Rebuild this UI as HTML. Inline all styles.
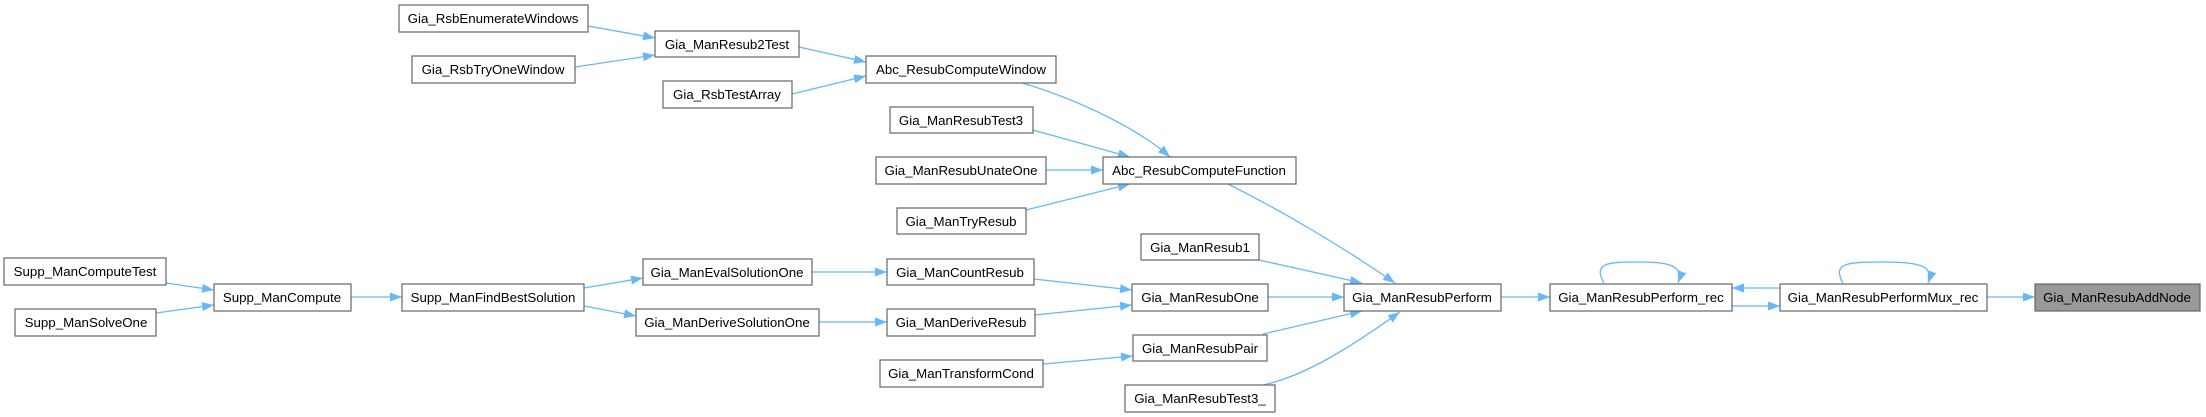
<!DOCTYPE html>
<html><head><meta charset="utf-8"><style>
html,body{margin:0;padding:0;background:#fff;}
svg{display:block;}
text{font-family:"Liberation Sans",Arial,sans-serif;font-size:13.3px;fill:#000;}
</style></head><body>
<svg width="2206" height="417" viewBox="0 0 2206 417" xmlns="http://www.w3.org/2000/svg">
<defs>
<marker id="a" markerWidth="12" markerHeight="9" refX="12" refY="4.5" orient="auto" markerUnits="userSpaceOnUse">
<path d="M0,0 L12,4.5 L0,9 z" fill="#63b8ff"/>
</marker>
</defs>
<g fill="none" stroke="#63b8ff" stroke-width="1.3" marker-end="url(#a)">
<path d="M588,26 L655,38"/>
<path d="M575,67 L655,55"/>
<path d="M799,47 L866,62"/>
<path d="M792,94 L866,76"/>
<path d="M1022,83 C1080,100 1140,130 1170,157"/>
<path d="M1033,130 L1130,157"/>
<path d="M1046,170 L1103,170"/>
<path d="M1026,210 L1130,184"/>
<path d="M1228,184 C1280,210 1340,245 1395,283"/>
<path d="M1259,260 L1362,283"/>
<path d="M1268,297 L1344,297"/>
<path d="M1263,334 L1362,311"/>
<path d="M1263,385 C1310,375 1360,340 1400,312"/>
<path d="M1034,279 L1132,290"/>
<path d="M1035,315 L1132,305"/>
<path d="M1043,364 L1133,356"/>
<path d="M812,272 L887,272"/>
<path d="M819,322 L887,322"/>
<path d="M584,288 L643,278"/>
<path d="M584,306 L636,316"/>
<path d="M351,297 L402,297"/>
<path d="M166,283 L214,290"/>
<path d="M156,313 L214,305"/>
<path d="M1501,297 L1550,297"/>
<path d="M1780,288 L1732,288"/>
<path d="M1732,306 L1780,306"/>
<path d="M1987,297 L2035,297"/>
<path d="M1604,283 C1592,262 1610,262 1640,262 C1670,262 1684,266 1678,283"/>
<path d="M1843,283 C1831,262 1850,262 1885,262 C1920,262 1934,266 1928,283"/>
</g>
<g stroke="#666" stroke-width="1.2" fill="#fff">
<rect x="399" y="5" width="189" height="27"/>
<rect x="412" y="56" width="163" height="27"/>
<rect x="655" y="31" width="144" height="26"/>
<rect x="663" y="81" width="129" height="27"/>
<rect x="866" y="56" width="190" height="27"/>
<rect x="890" y="107" width="143" height="26"/>
<rect x="876" y="157" width="170" height="27"/>
<rect x="897" y="208" width="129" height="26"/>
<rect x="1103" y="157" width="193" height="27"/>
<rect x="1141" y="234" width="118" height="26"/>
<rect x="1132" y="284" width="136" height="27"/>
<rect x="1133" y="335" width="134" height="26"/>
<rect x="1125" y="385" width="150" height="27"/>
<rect x="887" y="259" width="147" height="26"/>
<rect x="887" y="309" width="148" height="27"/>
<rect x="880" y="360" width="163" height="27"/>
<rect x="643" y="259" width="169" height="26"/>
<rect x="636" y="309" width="183" height="27"/>
<rect x="402" y="284" width="182" height="27"/>
<rect x="214" y="284" width="137" height="27"/>
<rect x="4" y="258" width="162" height="27"/>
<rect x="15" y="309" width="141" height="27"/>
<rect x="1344" y="284" width="157" height="27"/>
<rect x="1550" y="284" width="182" height="27"/>
<rect x="1780" y="284" width="207" height="27"/>
<rect x="2035" y="284" width="165" height="27" fill="#999"/>
</g>
<g text-anchor="middle">
<text x="493" y="23">Gia_RsbEnumerateWindows</text>
<text x="493" y="74">Gia_RsbTryOneWindow</text>
<text x="727" y="49">Gia_ManResub2Test</text>
<text x="727" y="99">Gia_RsbTestArray</text>
<text x="961" y="74">Abc_ResubComputeWindow</text>
<text x="961" y="125">Gia_ManResubTest3</text>
<text x="961" y="175">Gia_ManResubUnateOne</text>
<text x="961" y="226">Gia_ManTryResub</text>
<text x="1199" y="175">Abc_ResubComputeFunction</text>
<text x="1200" y="252">Gia_ManResub1</text>
<text x="1200" y="302">Gia_ManResubOne</text>
<text x="1200" y="353">Gia_ManResubPair</text>
<text x="1200" y="403">Gia_ManResubTest3_</text>
<text x="960" y="277">Gia_ManCountResub</text>
<text x="961" y="327">Gia_ManDeriveResub</text>
<text x="961" y="378">Gia_ManTransformCond</text>
<text x="727" y="277">Gia_ManEvalSolutionOne</text>
<text x="727" y="327">Gia_ManDeriveSolutionOne</text>
<text x="493" y="302">Supp_ManFindBestSolution</text>
<text x="282" y="302">Supp_ManCompute</text>
<text x="85" y="276">Supp_ManComputeTest</text>
<text x="86" y="327">Supp_ManSolveOne</text>
<text x="1422" y="302">Gia_ManResubPerform</text>
<text x="1641" y="302">Gia_ManResubPerform_rec</text>
<text x="1883" y="302">Gia_ManResubPerformMux_rec</text>
<text x="2117" y="302">Gia_ManResubAddNode</text>
</g>
</svg>
</body></html>
